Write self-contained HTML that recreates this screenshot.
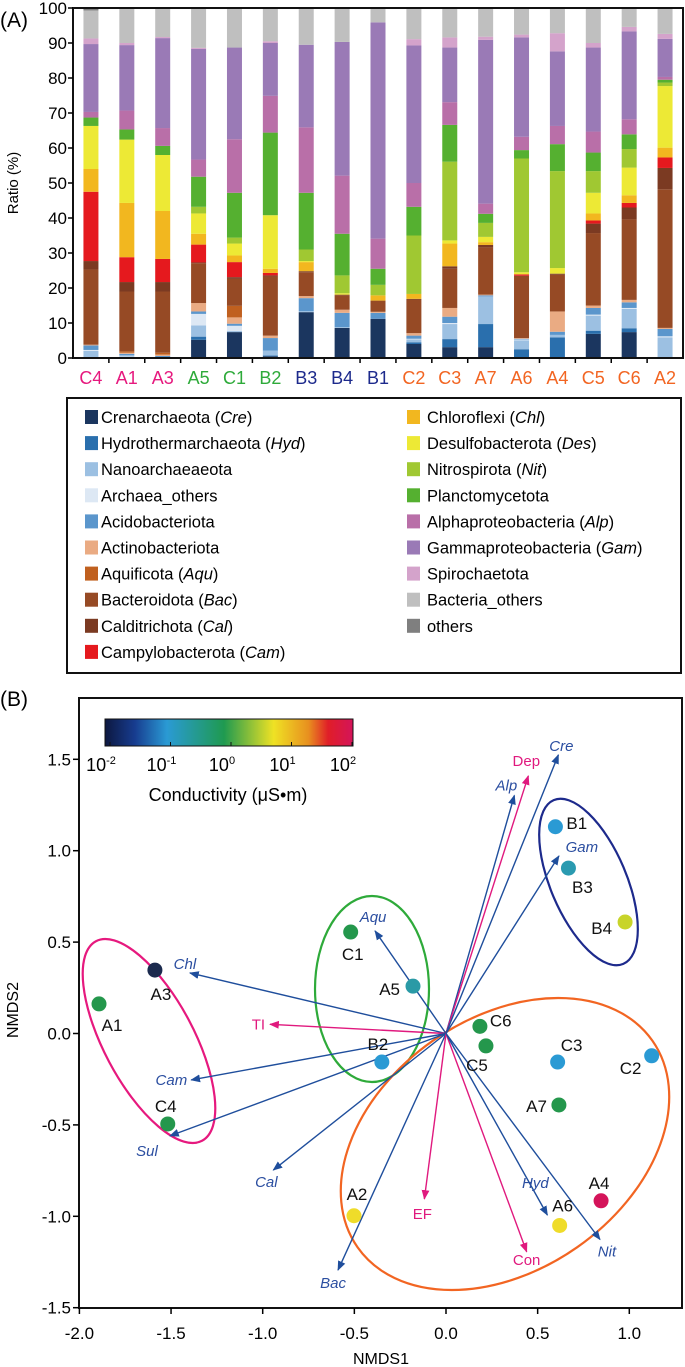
<!DOCTYPE html>
<html><head><meta charset="utf-8">
<style>
html,body{margin:0;padding:0;background:#fff;}
svg{display:block;font-family:"Liberation Sans",Arial,sans-serif;}
</style></head>
<body>
<svg id="fig" width="685" height="1367" viewBox="0 0 685 1367" xmlns="http://www.w3.org/2000/svg">
<defs>
<linearGradient id="cbar" x1="0" x2="1" y1="0" y2="0">
<stop offset="0" stop-color="#0d1840"/><stop offset="0.12" stop-color="#173c8f"/>
<stop offset="0.25" stop-color="#2a9ad4"/><stop offset="0.48" stop-color="#1f9a50"/>
<stop offset="0.68" stop-color="#efe224"/><stop offset="0.82" stop-color="#e8901f"/>
<stop offset="0.9" stop-color="#e01e28"/><stop offset="1" stop-color="#d4145a"/>
</linearGradient>
<marker id="ahB" viewBox="0 0 10 10" refX="9" refY="5" markerWidth="7" markerHeight="7" orient="auto"><path d="M0,1 L10,5 L0,9 z" fill="#1f4e9c"/></marker>
<marker id="ahP" viewBox="0 0 10 10" refX="9" refY="5" markerWidth="7" markerHeight="7" orient="auto"><path d="M0,1 L10,5 L0,9 z" fill="#e0197e"/></marker>
</defs>
<text x="0" y="27" font-size="21">(A)</text>
<text x="0" y="706" font-size="21">(B)</text>
<g id="gA"></g>
<g id="gL"></g>
<g id="gB"></g>
</svg>
<script>
// ---- Panel A data ----
const samples = ["C4","A1","A3","A5","C1","B2","B3","B4","B1","C2","C3","A7","A6","A4","C5","C6","A2"];
const sampleGroup = ["p","p","p","g","g","g","n","n","n","o","o","o","o","o","o","o","o"];
const taxa = ["Crenarchaeota (Cre)","Hydrothermarchaeota (Hyd)","Nanoarchaeaeota","Archaea_others","Acidobacteriota","Actinobacteriota","Aquificota (Aqu)","Bacteroidota (Bac)","Calditrichota (Cal)","Campylobacterota (Cam)","Chloroflexi (Chl)","Desulfobacterota (Des)","Nitrospirota (Nit)","Planctomycetota","Alphaproteobacteria (Alp)","Gammaproteobacteria (Gam)","Spirochaetota","Bacteria_others","others"];
const cre   = [0,0,0,5.2,7.4,0.5,13.1,8.6,11.2,4,3.1,3.1,0,0,6.9,7.4,0];
const hyd   = [0,0,0,0.9,0,0.2,0,0,0,0.5,2.3,6.6,2.5,5.9,0.9,1.1,0];
const nano  = [2,0.5,0,3.2,0.3,1.4,0.3,0.2,0,0.8,4.3,7.9,2.5,0.7,4.3,5.5,5.9];
const archO = [0.3,0.2,0,3.3,1.5,0,0,0,0,0.2,0.3,0,0.3,0,0.3,0.3,0.3];
const acido = [1.3,0.5,0.6,0.7,0.6,3.6,3.7,4.1,1.7,0.9,1.8,0.3,0.2,0.9,1.9,1.6,2.1];
const actino= [0.2,0.3,0.4,2.4,1.8,0.7,0.6,0.9,0.3,0.7,2.5,0.2,0.2,5.8,0.7,0.7,0.3];
const aqu   = [0,0.4,0.5,0,3.3,0,0,0,0,0,0,0,0,0,0,0,0];
const bac   = [21.5,17.1,17.5,11.4,7.7,16.9,6.8,4.1,3.2,9.6,11.2,13.5,17.8,10.5,20.7,23,39.6];
const cal   = [2.4,2.7,2.7,0.2,0.5,0.3,0.3,0.2,0,0.2,0.7,0.7,0,0.3,2.7,3.4,6.1];
const cam   = [19.8,7.1,6.6,5.1,4.3,0.7,0,0,0,0,0,0,0.4,0,0.9,1.3,3];
const chl   = [6.5,15.5,13.7,3.1,1.9,1.2,2.6,0,1.5,1.4,6.5,0.8,0,0,2,2.2,2.8];
const des   = [12.3,18.1,16,5.8,3.4,15.3,0.3,0.4,0,0,0.9,1.5,0.6,1.6,5.9,7.9,17.6];
const nit   = [0,0,0,1.9,1.7,0,3.3,5.1,3,16.7,22.5,4,32.5,27.7,6.2,5.3,1];
const planc = [2.4,2.9,2.6,8.6,12.8,23.6,16.2,11.9,4.6,8.2,10.5,2.6,2.4,7.7,5.3,4.2,0.8];
const alp   = [1.6,5.4,5.1,4.9,15.3,10.5,18.7,16.6,8.6,6.8,6.5,2.9,3.8,5.2,6,4.3,0.8];
const gam   = [19.4,18.7,25.7,31.6,26.2,15.1,23.6,38.2,61.8,39.3,15.6,46.8,28.4,21.3,24,25.1,10.9];
const spiro = [1.6,0.6,0.3,0.3,0,0.5,0,0,0,1.8,2.9,0.9,0.8,5.2,1.3,1.3,1.4];
const bactO = [8,10,8.3,11.4,11.3,9.5,10.5,9.7,4.1,8.9,8.4,8.4,7.6,7.2,10,5.4,7.4];
const othersV=[0.7,0,0,0,0,0,0,0,0,0,0,0,0,0,0,0,0];
const yTicksA = [0,10,20,30,40,50,60,70,80,90,100];

// ---- Panel B data ----
const ptNames = ["A3","A1","C4","C1","A5","B2","B1","B3","B4","C6","C5","C3","C2","A7","A4","A6","A2"];
const ptX = [-1.588,-1.893,-1.518,-0.52,-0.18,-0.35,0.597,0.668,0.977,0.185,0.218,0.609,1.122,0.616,0.846,0.62,-0.502];
const ptY = [0.347,0.162,-0.495,0.555,0.259,-0.156,1.131,0.905,0.61,0.039,-0.068,-0.156,-0.122,-0.391,-0.915,-1.05,-0.997];
const ptCond = [0.01,1,1,1,0.2,0.1,0.1,0.15,5,1,1,0.1,0.1,1,100,10,10];
const arNames = ["Chl","TI","Cam","Sul","Cal","Bac","Aqu","Alp","Dep","Cre","Gam","EF","Con","Hyd","Nit"];
const arType  = ["t","e","t","t","t","t","t","t","e","t","t","e","e","t","t"];
const arX = [-1.397,-0.96,-1.39,-1.506,-0.942,-0.589,-0.387,0.373,0.449,0.613,0.616,-0.118,0.44,0.553,0.84];
const arY = [0.331,0.05,-0.254,-0.56,-0.747,-1.294,0.561,1.302,1.409,1.524,0.971,-0.905,-1.194,-0.993,-1.127];
const xTicksB = [-2.0,-1.5,-1.0,-0.5,0.0,0.5,1.0];
const yTicksB = [1.5,1.0,0.5,0.0,-0.5,-1.0,-1.5];
const cbTicks = [-2,-1,0,1,2];

const NS="http://www.w3.org/2000/svg";
function mk(tag, parent, attrs){const e=document.createElementNS(NS,tag);for(const k in attrs)e.setAttribute(k,attrs[k]);parent.appendChild(e);return e;}

// ---------- Panel A ----------
const gA=document.getElementById('gA');
const series=[cre,hyd,nano,archO,acido,actino,aqu,bac,cal,cam,chl,des,nit,planc,alp,gam,spiro,bactO,othersV];
const colors=["#1b365f","#2a6fad","#9cc0e2","#dde8f4","#5b96cc","#eaab83","#c0601f","#964a25","#7b3a22","#e5191e","#f2b71f","#ede935","#a0c832","#55b030","#b96fa8","#9a7ab6","#d4a3cb","#bfbfbf","#7f7f7f"];
const grpCol={p:"#e6197e",g:"#2eaa3a",n:"#1d2a8c",o:"#f26522"};
const AX0=73,AX1=683,AY0=358,AY1=8;
const ay=v=>AY0-(v/100)*(AY0-AY1);
const bw=(AX1-AX0)/samples.length;
const ax=i=>AX0+bw*(i+0.5);
samples.forEach((s,i)=>{
  let cum=0;
  const g=mk('g',gA,{});
  
  
  series.forEach((arr,k)=>{
    const v=arr[i]; if(v<=0){return;}
    const r=mk('rect',g,{x:ax(i)-7.5,y:ay(cum+v),width:15,height:ay(cum)-ay(cum+v),fill:colors[k]});
    
    
    cum+=v;
  });
  const t=mk('text',gA,{x:ax(i),y:384,'text-anchor':'middle','font-size':18,fill:grpCol[sampleGroup[i]]});
  t.textContent=s;
  
  
  if(i>0){mk('line',gA,{x1:AX0+bw*i,x2:AX0+bw*i,y1:AY0,y2:AY0+5,stroke:'#000','stroke-width':1.5});}
});
const fA=mk('rect',gA,{x:AX0,y:AY1,width:AX1-AX0,height:AY0-AY1,fill:'none',stroke:'#111','stroke-width':2});


yTicksA.forEach(v=>{
  mk('line',gA,{x1:AX0-5,x2:AX0,y1:ay(v),y2:ay(v),stroke:'#000','stroke-width':1.5});
  const t=mk('text',gA,{x:AX0-6,y:ay(v)+6,'text-anchor':'end','font-size':17});
  t.textContent=v;
  
  
});
const yt=mk('text',gA,{x:0,y:0,transform:'translate(18,183) rotate(-90)','text-anchor':'middle','font-size':15});
yt.textContent='Ratio (%)';



// ---------- Legend ----------
const gL=document.getElementById('gL');
const lb=mk('rect',gL,{x:67,y:398,width:614,height:275,fill:'none',stroke:'#111','stroke-width':2});


taxa.forEach((name,k)=>{
  const col=k<10?0:1, row=k<10?k:k-10;
  const sx=col?407:85, y=417+row*26.1;
  const g=mk('g',gL,{});
  
  
  mk('rect',g,{x:sx,y:y-7,width:13,height:14,fill:colors[k]});
  const t=mk('text',g,{x:sx+(col?20:16),y:y+6,'font-size':16.5});
  const m=name.match(/^(.*)\((.*)\)$/);
  if(m){t.appendChild(document.createTextNode(m[1]+'('));const it=mk('tspan',t,{'font-style':'italic'});it.textContent=m[2];t.appendChild(document.createTextNode(')'));}
  else t.textContent=name;
});

// ---------- Panel B ----------
const gB=document.getElementById('gB');
const BX0=79,BX1=682,BYT=698,BYB=1308;
const bx=v=>446+v*183.3;
const by=v=>1033.5-v*182.8;
const fB=mk('rect',gB,{x:BX0,y:BYT,width:BX1-BX0,height:BYB-BYT,fill:'none',stroke:'#111','stroke-width':2});


xTicksB.forEach(v=>{
  mk('line',gB,{x1:bx(v),x2:bx(v),y1:BYB,y2:BYB+6,stroke:'#000','stroke-width':1.5});
  const t=mk('text',gB,{x:bx(v),y:1339,'text-anchor':'middle','font-size':17});
  t.textContent=v.toFixed(1);
  
  
});
yTicksB.forEach(v=>{
  mk('line',gB,{x1:BX0-6,x2:BX0,y1:by(v),y2:by(v),stroke:'#000','stroke-width':1.5});
  const t=mk('text',gB,{x:BX0-8,y:by(v)+6,'text-anchor':'end','font-size':17});
  t.textContent=v.toFixed(1);
  
  
});
const xt=mk('text',gB,{x:381,y:1364,'text-anchor':'middle','font-size':16});
xt.textContent='NMDS1';


const yt2=mk('text',gB,{x:0,y:0,transform:'translate(18,1010) rotate(-90)','text-anchor':'middle','font-size':16});
yt2.textContent='NMDS2';



// colorbar
const cbx=l=>110+(l+2)*60.5;
const cb=mk('rect',gB,{x:105,y:719,width:248,height:27,fill:'url(#cbar)',stroke:'#111','stroke-width':1});


cbTicks.forEach(l=>{
  mk('line',gB,{x1:cbx(l),x2:cbx(l),y1:742,y2:746,stroke:'#111','stroke-width':1});
  const t=mk('text',gB,{x:cbx(l)-9,y:771,'text-anchor':'middle','font-size':18});
  t.appendChild(document.createTextNode('10'));
  const sp=mk('tspan',t,{dy:-7,'font-size':11});sp.textContent=String(l);
  
  
});
const cbt=mk('text',gB,{x:228,y:801,'text-anchor':'middle','font-size':18});
cbt.textContent='Conductivity (\u03bcS\u2022m)';



// ellipses
const ells=[["pink-cluster-ellipse",149,1041,113,45,62,"#e6197e"],["green-cluster-ellipse",372,989,57,93,0,"#2eaa3a"],["navy-cluster-ellipse",588.5,882,89,38,67,"#1d2a8c"],["orange-cluster-ellipse",505,1144,180,126,-35,"#f26522"]];
ells.forEach(e=>{
  const el=mk('ellipse',gB,{cx:e[1],cy:e[2],rx:e[3],ry:e[4],transform:`rotate(${e[5]} ${e[1]} ${e[2]})`,fill:'none',stroke:e[6],'stroke-width':2.2});
  
  
});

// arrows
const arLab=[[-5,-4,'middle'],[-5,5,'end'],[-4,5,'end'],[-23,20,'middle'],[-7,17,'middle'],[-5,18,'middle'],[-2,-9,'middle'],[-8,-5,'middle'],[-2,-10,'middle'],[3,-4,'middle'],[23,-4,'middle'],[-2,20,'middle'],[0,13,'middle'],[-12,-27,'middle'],[7,17,'middle']];
arNames.forEach((n,i)=>{
  const env=arType[i]==='e';
  const c=env?'#e0197e':'#1f4e9c';
  const X=bx(arX[i]),Y=by(arY[i]);
  const l=mk('line',gB,{x1:bx(0),y1:by(0),x2:X,y2:Y,stroke:c,'stroke-width':1.4,'marker-end':env?'url(#ahP)':'url(#ahB)'});
  
  
  const o=arLab[i];
  const t=mk('text',gB,{x:X+o[0],y:Y+o[1],'text-anchor':o[2],'font-size':15,fill:env?'#e0197e':'#2b4ea0','font-style':env?'normal':'italic'});
  t.textContent=n;
  
  
});

// points
function condColor(v){
  const l=Math.log10(v);
  const stops=[[-2,'#1b2a4e'],[-1,'#2a9ad4'],[-0.8,'#2a9ab0'],[-0.7,'#2a9aa6'],[0,'#24974c'],[0.7,'#c8d42a'],[1,'#efdc2a'],[2,'#d4145a']];
  let best=stops[0];stops.forEach(s=>{if(Math.abs(s[0]-l)<Math.abs(best[0]-l))best=s;});
  return best[1];
}
const ptLab=[[6,30,'middle'],[13,27,'middle'],[-2,-12,'middle'],[2,28,'middle'],[-13,9,'end'],[-4,-12,'middle'],[11,2,'start'],[14,25,'middle'],[-13,12,'end'],[10,0,'start'],[-9,25,'middle'],[14,-11,'middle'],[-21,18,'middle'],[-12,7,'end'],[-2,-12,'middle'],[3,-14,'middle'],[3,-16,'middle']];
ptNames.forEach((n,i)=>{
  const X=bx(ptX[i]),Y=by(ptY[i]);
  const c=mk('circle',gB,{cx:X,cy:Y,r:7.5,fill:condColor(ptCond[i])});
  
  
  const o=ptLab[i];
  const t=mk('text',gB,{x:X+o[0],y:Y+o[1],'text-anchor':o[2],'font-size':17,fill:'#111'});
  t.textContent=n;
  
  
});
</script>
</body></html>
